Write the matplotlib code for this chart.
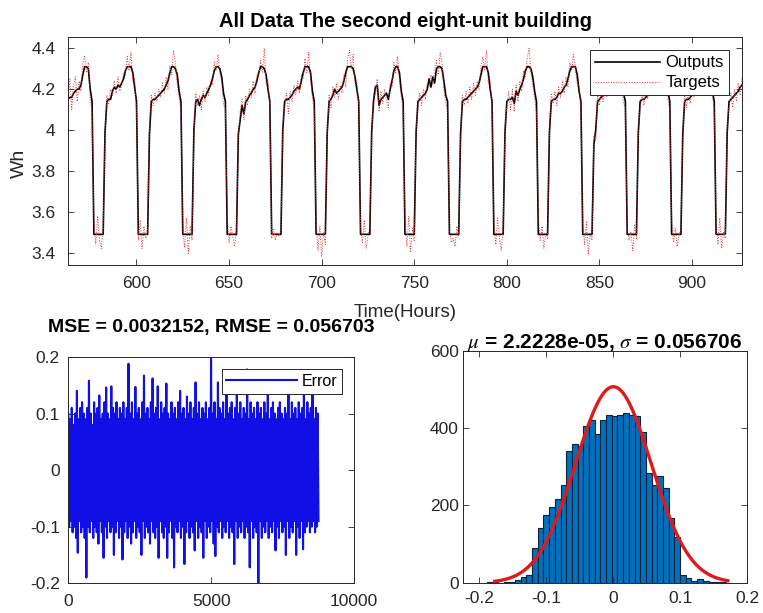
import numpy as np
import matplotlib
matplotlib.use('Agg')
import matplotlib.pyplot as plt

plt.rcParams['font.family'] = ['Liberation Sans', 'DejaVu Sans']
plt.rcParams['axes.unicode_minus'] = False
plt.rcParams['mathtext.fontset'] = 'stix'

# ---- top panel: hourly network outputs and targets (hours 563..927)
t_start = 563
outputs = [
    4.15, 4.16, 4.16, 4.18, 4.19, 4.20, 4.20, 4.22, 4.27, 4.31, 4.31, 4.30, 4.20, 4.14,
    3.49, 3.49, 3.49, 3.49, 3.49, 3.49, 3.99, 4.14, 4.15, 4.15, 4.19, 4.21, 4.20, 4.22, 4.21, 4.23, 4.25, 4.29, 4.31, 4.31, 4.31, 4.28, 4.21, 4.14,
    3.49, 3.49, 3.49, 3.49, 3.49, 3.49, 3.98, 4.14, 4.15, 4.15, 4.16, 4.17, 4.18, 4.19, 4.20, 4.22, 4.24, 4.28, 4.31, 4.31, 4.30, 4.27, 4.19, 4.14,
    3.49, 3.49, 3.49, 3.49, 3.49, 3.49, 4.00, 4.14, 4.15, 4.12, 4.15, 4.17, 4.16, 4.18, 4.20, 4.22, 4.25, 4.29, 4.31, 4.31, 4.30, 4.26, 4.18, 4.14,
    3.49, 3.49, 3.49, 3.49, 3.49, 3.49, 3.98, 4.05, 4.12, 4.08, 4.14, 4.15, 4.17, 4.18, 4.20, 4.21, 4.24, 4.28, 4.31, 4.31, 4.30, 4.27, 4.20, 4.14,
    3.49, 3.49, 3.49, 3.49, 3.49, 3.49, 4.00, 4.14, 4.15, 4.15, 4.16, 4.17, 4.19, 4.20, 4.21, 4.20, 4.24, 4.28, 4.31, 4.31, 4.31, 4.28, 4.19, 4.14,
    3.49, 3.49, 3.49, 3.49, 3.49, 3.49, 3.99, 4.14, 4.15, 4.17, 4.20, 4.18, 4.19, 4.20, 4.21, 4.24, 4.28, 4.31, 4.31, 4.31, 4.30, 4.26, 4.20, 4.14,
    3.49, 3.49, 3.49, 3.49, 3.49, 3.49, 3.99, 4.14, 4.21, 4.22, 4.12, 4.15, 4.16, 4.17, 4.18, 4.15, 4.20, 4.24, 4.29, 4.31, 4.31, 4.28, 4.19, 4.14,
    3.49, 3.49, 3.49, 3.49, 3.49, 3.49, 3.99, 4.14, 4.15, 4.16, 4.17, 4.18, 4.20, 4.25, 4.21, 4.26, 4.23, 4.30, 4.31, 4.31, 4.30, 4.24, 4.17, 4.14,
    3.49, 3.49, 3.49, 3.49, 3.49, 3.49, 3.98, 4.14, 4.15, 4.15, 4.16, 4.17, 4.18, 4.19, 4.20, 4.21, 4.23, 4.27, 4.31, 4.31, 4.31, 4.28, 4.20, 4.14,
    3.49, 3.49, 3.49, 3.49, 3.49, 3.49, 3.99, 4.14, 4.15, 4.15, 4.16, 4.13, 4.19, 4.17, 4.20, 4.22, 4.25, 4.29, 4.31, 4.31, 4.30, 4.26, 4.19, 4.14,
    3.49, 3.49, 3.49, 3.49, 3.49, 3.49, 3.99, 4.14, 4.15, 4.15, 4.16, 4.18, 4.18, 4.19, 4.21, 4.22, 4.25, 4.29, 4.31, 4.31, 4.31, 4.27, 4.19, 4.14,
    3.49, 3.49, 3.49, 3.49, 3.49, 3.49, 3.93, 4.00, 4.14, 4.15, 4.16, 4.17, 4.18, 4.20, 4.22, 4.24, 4.27, 4.30, 4.31, 4.31, 4.30, 4.25, 4.18, 4.14,
    3.49, 3.49, 3.49, 3.49, 3.49, 3.49, 3.99, 4.14, 4.15, 4.15, 4.16, 4.17, 4.18, 4.19, 4.20, 4.22, 4.25, 4.29, 4.31, 4.31, 4.31, 4.27, 4.19, 4.14,
    3.49, 3.49, 3.49, 3.49, 3.49, 3.49, 3.98, 4.14, 4.15, 4.15, 4.16, 4.17, 4.18, 4.19, 4.20, 4.22, 4.25, 4.29, 4.31, 4.31, 4.31, 4.27, 4.19, 4.14,
    3.49, 3.49, 3.49, 3.49, 3.49, 3.49, 3.99, 4.14, 4.15, 4.16, 4.17, 4.18, 4.19, 4.21, 4.22,
]
targets = [
    4.12, 4.25, 4.10, 4.22, 4.26, 4.14, 4.24, 4.19, 4.33, 4.36, 4.28, 4.33, 4.15, 4.09,
    3.55, 3.44, 3.58, 3.46, 3.42, 3.52, 3.97, 4.17, 4.13, 4.20, 4.17, 4.24, 4.18, 4.26, 4.19, 4.22, 4.28, 4.27, 4.36, 4.29, 4.38, 4.24, 4.25, 4.10,
    3.46, 3.56, 3.42, 3.53, 3.47, 3.50, 4.01, 4.17, 4.12, 4.18, 4.14, 4.20, 4.16, 4.23, 4.18, 4.26, 4.20, 4.31, 4.27, 4.39, 4.33, 4.22, 4.16, 4.10,
    3.50, 3.43, 3.57, 3.39, 3.53, 3.46, 3.97, 4.18, 4.12, 4.17, 4.10, 4.19, 4.14, 4.21, 4.17, 4.24, 4.22, 4.33, 4.29, 4.37, 4.28, 4.24, 4.12, 4.11,
    3.58, 3.45, 3.53, 3.48, 3.43, 3.51, 3.96, 4.09, 4.15, 4.05, 4.17, 4.12, 4.20, 4.16, 4.24, 4.18, 4.27, 4.26, 4.34, 4.28, 4.40, 4.22, 4.24, 4.11,
    3.47, 3.52, 3.46, 3.50, 3.48, 3.51, 4.02, 4.11, 4.18, 4.08, 4.19, 4.14, 4.22, 4.17, 4.24, 4.18, 4.27, 4.25, 4.35, 4.28, 4.38, 4.25, 4.15, 4.10,
    3.56, 3.41, 3.53, 3.38, 3.50, 3.44, 3.97, 4.17, 4.11, 4.21, 4.16, 4.23, 4.15, 4.22, 4.18, 4.27, 4.21, 4.35, 4.39, 4.30, 4.37, 4.23, 4.24, 4.12,
    3.52, 3.45, 3.56, 3.42, 3.48, 3.53, 3.96, 4.18, 4.17, 4.25, 4.09, 4.19, 4.13, 4.20, 4.15, 4.11, 4.23, 4.21, 4.33, 4.28, 4.36, 4.24, 4.16, 4.10,
    3.55, 3.43, 3.58, 3.40, 3.52, 3.46, 4.01, 4.11, 4.18, 4.12, 4.20, 4.15, 4.23, 4.21, 4.27, 4.22, 4.28, 4.34, 4.27, 4.38, 4.33, 4.20, 4.13, 4.10,
    3.51, 3.45, 3.47, 3.43, 3.53, 3.48, 3.96, 4.17, 4.12, 4.19, 4.13, 4.21, 4.15, 4.23, 4.17, 4.24, 4.20, 4.31, 4.36, 4.29, 4.39, 4.23, 4.24, 4.11,
    3.54, 3.44, 3.57, 3.47, 3.41, 3.52, 4.02, 4.11, 4.19, 4.10, 4.20, 4.09, 4.22, 4.14, 4.24, 4.19, 4.29, 4.26, 4.35, 4.40, 4.28, 4.22, 4.15, 4.09,
    3.57, 3.46, 3.53, 3.42, 3.50, 3.47, 3.97, 4.18, 4.13, 4.19, 4.12, 4.21, 4.16, 4.24, 4.18, 4.26, 4.21, 4.33, 4.29, 4.37, 4.30, 4.23, 4.22, 4.10,
    3.53, 3.44, 3.55, 3.39, 3.50, 3.46, 3.97, 3.95, 4.17, 4.12, 4.19, 4.14, 4.22, 4.16, 4.25, 4.19, 4.28, 4.24, 4.35, 4.29, 4.38, 4.22, 4.13, 4.11,
    3.52, 3.46, 3.50, 3.41, 3.54, 3.47, 3.98, 4.11, 4.18, 4.12, 4.20, 4.15, 4.22, 4.17, 4.24, 4.19, 4.27, 4.23, 4.34, 4.28, 4.37, 4.24, 4.15, 4.10,
    3.56, 3.45, 3.52, 3.43, 3.49, 3.51, 3.96, 4.17, 4.11, 4.19, 4.13, 4.21, 4.16, 4.23, 4.18, 4.25, 4.22, 4.32, 4.28, 4.36, 4.31, 4.23, 4.16, 4.11,
    3.54, 3.44, 3.57, 3.42, 3.50, 3.47, 4.02, 4.12, 4.18, 4.11, 4.20, 4.14, 4.23, 4.17, 4.26,
]

# ---- bottom left: error over all 8760 samples (upper / lower swings, in order)
err_hi = [
    0.10, 0.09, 0.11, 0.08, 0.10, 0.14, 0.09, 0.11, 0.12, 0.10,
    0.09, 0.11, 0.158, 0.10, 0.08, 0.12, 0.10, 0.11, 0.132, 0.09,
    0.10, 0.12, 0.146, 0.10, 0.09, 0.148, 0.11, 0.10, 0.12, 0.09,
    0.11, 0.10, 0.12, 0.09, 0.11, 0.188, 0.10, 0.12, 0.09, 0.147,
    0.10, 0.11, 0.09, 0.12, 0.167, 0.10, 0.11, 0.09, 0.12, 0.162,
    0.10, 0.11, 0.148, 0.09, 0.12, 0.10, 0.11, 0.153, 0.10, 0.09,
    0.12, 0.10, 0.11, 0.09, 0.12, 0.14, 0.10, 0.11, 0.09, 0.13,
    0.10, 0.12, 0.09, 0.11, 0.155, 0.10, 0.12, 0.09, 0.11, 0.10,
    0.12, 0.09, 0.11, 0.197, 0.10, 0.12, 0.09, 0.155, 0.11, 0.10,
    0.12, 0.09, 0.158, 0.10, 0.11, 0.12, 0.09, 0.11, 0.15, 0.10,
    0.12, 0.09, 0.11, 0.10, 0.178, 0.09, 0.12, 0.10, 0.11, 0.09,
    0.12, 0.10, 0.11, 0.09, 0.12, 0.10, 0.15, 0.09, 0.11, 0.12,
    0.10, 0.09, 0.11, 0.12, 0.10, 0.09, 0.11, 0.10, 0.15, 0.09,
    0.12, 0.10, 0.11, 0.09, 0.12, 0.10, 0.11, 0.155, 0.09, 0.12,
    0.10, 0.11, 0.14, 0.09, 0.11, 0.10,
]
err_lo = [
    -0.10, -0.09, -0.11, -0.10, -0.12, -0.146, -0.09, -0.11, -0.10, -0.12,
    -0.19, -0.10, -0.11, -0.09, -0.12, -0.10, -0.11, -0.13, -0.09, -0.11,
    -0.155, -0.10, -0.12, -0.09, -0.11, -0.10, -0.15, -0.11, -0.09, -0.12,
    -0.10, -0.158, -0.11, -0.09, -0.12, -0.10, -0.13, -0.11, -0.09, -0.12,
    -0.10, -0.11, -0.15, -0.09, -0.12, -0.10, -0.11, -0.13, -0.09, -0.11,
    -0.12, -0.10, -0.155, -0.09, -0.11, -0.12, -0.10, -0.155, -0.11, -0.09,
    -0.12, -0.172, -0.10, -0.11, -0.09, -0.12, -0.10, -0.166, -0.11, -0.09,
    -0.12, -0.10, -0.11, -0.142, -0.09, -0.12, -0.10, -0.11, -0.155, -0.09,
    -0.12, -0.10, -0.11, -0.09, -0.13, -0.152, -0.10, -0.11, -0.09, -0.12,
    -0.10, -0.11, -0.09, -0.12, -0.10, -0.11, -0.166, -0.09, -0.12, -0.10,
    -0.11, -0.09, -0.12, -0.10, -0.11, -0.172, -0.09, -0.12, -0.10, -0.11,
    -0.225, -0.09, -0.12, -0.10, -0.11, -0.09, -0.12, -0.10, -0.11, -0.09,
    -0.142, -0.10, -0.12, -0.09, -0.11, -0.10, -0.15, -0.09, -0.12, -0.10,
    -0.11, -0.09, -0.15, -0.10, -0.12, -0.09, -0.14, -0.11, -0.10, -0.09,
    -0.11, -0.10, -0.09, -0.11, -0.10, -0.09,
]
n_samples = 8760

# ---- bottom right: error histogram + normal fit
bin_start = -0.1894
bin_width = 0.0085
hist_counts = [3, 2, 0, 1, 2, 7, 16, 20, 89, 141, 176, 196, 216, 254,
               342, 360, 353, 405, 422, 384, 420, 433, 431, 435, 440, 435, 431, 390,
               284, 254, 275, 245, 167, 118, 20, 12, 4, 11, 4, 3, 2, 1]
mu = 2.2228e-05
sigma = 0.056706
fit_peak = 507
fit_range = (-0.177, 0.171)

axis_col = '#262626'


def style_axes(ax, pad):
    for s in ax.spines.values():
        s.set_color(axis_col)
        s.set_linewidth(0.7)
    ax.tick_params(direction='in', top=True, right=True, length=4, width=0.6,
                   colors=axis_col, labelsize=12.5)
    ax.tick_params(axis='y', pad=pad[0])
    ax.tick_params(axis='x', pad=pad[1])


def boxed_legend(ax, size, pad, hl):
    lg = ax.legend(loc='upper right', fontsize=size, handlelength=hl, handletextpad=0.3,
                   borderpad=0.3, labelspacing=0.3, fancybox=False, framealpha=1,
                   edgecolor=axis_col, borderaxespad=pad)
    lg.get_frame().set_linewidth(0.7)
    return lg


fig = plt.figure(figsize=(7.63, 6.13), dpi=100)

# top
ax1 = fig.add_axes([0.0891, 0.5677, 0.8834, 0.3719])
hours = np.arange(t_start, t_start + len(outputs))
ax1.plot(hours, outputs, color='black', lw=1.2, label='Outputs')
ax1.plot(hours, targets, color='#e83030', lw=0.7, ls=':', label='Targets')
ax1.set_xlim(563, 927)
ax1.set_ylim(3.34, 4.455)
ax1.set_yticks([3.4, 3.6, 3.8, 4.0, 4.2, 4.4])
ax1.set_yticklabels(['3.4', '3.6', '3.8', '4', '4.2', '4.4'])
ax1.set_xticks([600, 650, 700, 750, 800, 850, 900])
style_axes(ax1, (9, 8))
ax1.set_title('All Data The second eight-unit building', fontsize=14.5, fontweight='bold', pad=7)
ax1.set_xlabel('Time(Hours)', fontsize=13.5, color=axis_col)
ax1.xaxis.set_label_coords(0.5, -0.17)
ax1.set_ylabel('Wh', fontsize=14, color=axis_col)
ax1.yaxis.set_label_coords(-0.06, 0.447)
boxed_legend(ax1, 12, 0.8, 3.9)

# bottom left
ax2 = fig.add_axes([0.0895, 0.0485, 0.3744, 0.3692])
err = np.column_stack([err_hi, err_lo]).ravel()
idx = np.linspace(1, n_samples, len(err))
ax2.plot(idx, err, color='#1010e6', lw=1.5, label='Error')
ax2.set_xlim(0, 10000)
ax2.set_ylim(-0.2, 0.2)
ax2.set_xticks([0, 5000, 10000])
ax2.set_xticklabels(['0', '5000', '10000'])
ax2.set_yticks([-0.2, -0.1, 0, 0.1, 0.2])
ax2.set_yticklabels(['-0.2', '-0.1', '0', '0.1', '0.2'])
style_axes(ax2, (6, 8))
ax2.set_title('MSE = 0.0032152, RMSE = 0.056703', fontsize=14, fontweight='bold', pad=18)
boxed_legend(ax2, 11.5, 0.75, 4.4)

# bottom right
ax3 = fig.add_axes([0.6064, 0.0493, 0.373, 0.3785])
lefts = bin_start + bin_width * np.arange(len(hist_counts))
ax3.bar(lefts, hist_counts, width=bin_width, align='edge', color='#0072BD',
        edgecolor='#10203a', linewidth=0.8)
xs = np.linspace(fit_range[0], fit_range[1], 300)
ax3.plot(xs, fit_peak * np.exp(-0.5 * ((xs - mu) / sigma) ** 2), color='#e01a1a', lw=2.4)
ax3.set_xlim(-0.225, 0.2)
ax3.set_ylim(0, 600)
ax3.set_xticks([-0.2, -0.1, 0, 0.1, 0.2])
ax3.set_xticklabels(['-0.2', '-0.1', '0', '0.1', '0.2'])
ax3.set_yticks([0, 200, 400, 600])
style_axes(ax3, (3, 6))
ax3.set_title(r'$\mu$ = 2.2228e-05, $\sigma$ = 0.056706', fontsize=15, fontweight='bold', pad=2)

fig.savefig('out.png', dpi=100)
